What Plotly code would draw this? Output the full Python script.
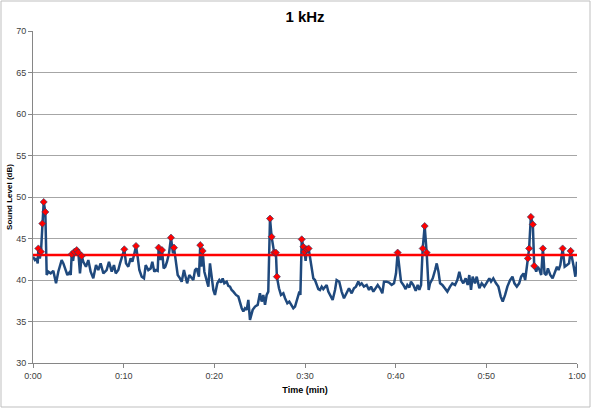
import plotly.graph_objects as go

# Time (seconds) and sound level (dB)
times = [0.0, 0.22, 0.40, 0.52, 0.59, 0.75, 0.88, 1.03, 1.18, 1.36, 1.51, 1.69, 1.95, 2.24, 2.54, 2.79,
         3.16, 3.35, 3.53, 3.79, 4.01, 4.16, 4.27, 4.42, 4.56, 4.82, 5.00, 5.18, 5.37, 5.55, 5.84,
         6.10, 6.36, 6.65, 6.95, 7.20, 7.46, 7.76, 8.12, 8.38, 8.68, 8.93, 9.12, 9.41, 9.60, 9.86,
         10.07, 10.26, 10.51, 10.77, 10.96, 11.18, 11.36, 11.54, 11.73, 11.99, 12.24, 12.43, 12.72,
         12.98, 13.16, 13.38, 13.57, 13.75, 13.86, 14.08, 14.23, 14.41, 14.59, 14.78, 15.00, 15.22,
         15.44, 15.55, 15.74, 15.96, 16.21, 16.40, 16.65, 16.87, 17.00, 17.24, 17.50, 17.68, 17.87,
         18.05, 18.30, 18.45, 18.56, 18.71, 18.90, 19.08, 19.34, 19.52, 19.71, 19.89, 20.07, 20.33,
         20.55, 20.74, 20.92, 21.10, 21.36, 21.54, 21.73, 21.91, 22.10, 22.39, 22.65, 22.83, 23.02,
         23.20, 23.38, 23.57, 23.75, 23.93, 24.04, 24.23, 24.49, 24.78, 25.03, 25.22, 25.40, 25.59,
         25.77, 25.95, 26.14, 26.32, 26.60, 26.79, 26.90, 27.13, 27.35, 27.61, 27.80, 28.05, 28.27,
         28.46, 28.71, 28.90, 29.16, 29.38, 29.49, 29.64, 29.82, 29.95, 30.07, 30.20, 30.40, 30.66,
         30.92, 31.10, 31.47, 31.65, 31.84, 32.02, 32.39, 32.57, 32.83, 33.05, 33.31, 33.49, 33.78,
         34.04, 34.30, 34.60, 34.85, 35.15, 35.40, 35.62, 35.88, 36.06, 36.25, 36.50, 36.80, 37.06,
         37.28, 37.54, 37.80, 38.02, 38.27, 38.53, 38.71, 39.00, 39.27, 39.56, 39.82, 40.04, 40.22,
         40.40, 40.59, 40.85, 41.10, 41.29, 41.51, 41.69, 41.95, 42.21, 42.43, 42.61, 42.80, 42.98,
         43.20, 43.42, 43.64, 43.79, 44.09, 44.35, 44.53, 44.72, 44.90, 45.15, 45.44, 45.70, 46.00,
         46.25, 46.55, 46.80, 47.02, 47.24, 47.46, 47.72, 47.94, 48.12, 48.31, 48.49, 48.75, 48.94,
         49.23, 49.49, 49.78, 50.04, 50.33, 50.52, 50.77, 51.07, 51.33, 51.59, 51.81, 52.07, 52.32,
         52.62, 52.88, 53.10, 53.36, 53.62, 53.84, 54.10, 54.28, 54.47, 54.58, 54.72, 54.91, 55.13,
         55.28, 55.50, 55.68, 55.87, 56.05, 56.24, 56.42, 56.61, 56.79, 57.05, 57.31, 57.53, 57.79,
         57.97, 58.16, 58.42, 58.64, 58.90, 59.12, 59.30, 59.49, 59.64, 59.82, 60.00]

levels = [42.8, 42.4, 42.6, 42.0, 43.8, 42.6, 43.4, 46.8, 49.4, 48.2, 40.6, 41.0, 40.8, 41.1, 39.6, 41.0,
          42.4, 42.0, 41.4, 40.6, 40.9, 40.6, 43.1, 42.3, 43.4, 43.6, 43.3, 40.8, 42.9, 42.2, 41.6,
          42.4, 41.0, 40.2, 41.8, 41.2, 42.0, 40.8, 41.2, 42.2, 41.0, 41.8, 40.8, 41.2, 42.0, 42.8,
          43.7, 42.0, 41.6, 42.6, 42.2, 43.2, 44.1, 42.8, 41.2, 40.4, 40.2, 41.8, 41.2,
          41.4, 42.2, 41.0, 41.2, 41.1, 43.9, 42.4, 43.6, 41.4, 41.6, 42.2, 43.2, 45.1,
          43.2, 43.9, 42.0, 40.6, 40.2, 39.8, 41.2, 40.2, 39.6, 40.6, 40.2, 40.0, 41.2,
          41.4, 40.4, 44.2, 41.6, 43.5, 41.0, 40.2, 39.2, 42.0, 40.6, 38.8, 38.2, 39.6,
          40.0, 39.7, 40.2, 39.6, 39.8, 39.3, 39.2, 38.8, 38.6, 38.2, 38.0, 37.2, 36.6,
          36.2, 36.6, 36.4, 37.6, 35.2, 35.6, 36.4, 36.8, 37.0, 38.4, 37.4, 38.2, 37.0,
          38.2, 38.6, 47.4, 45.2, 43.3, 43.3, 40.4, 39.0, 38.2, 38.4, 37.8, 37.2, 37.4,
          37.0, 36.6, 36.8, 37.8, 38.6, 38.2, 44.9, 44.0, 43.4, 42.3, 43.7, 43.8, 41.9,
          40.2, 40.0, 38.9, 38.8, 39.2, 38.9, 39.4, 38.6, 38.0, 37.6, 38.8, 40.0, 39.8,
          38.6, 37.8, 38.4, 39.0, 38.4, 39.0, 39.2, 39.8, 39.4, 39.6, 39.2, 39.4, 38.8,
          39.2, 38.6, 39.0, 39.4, 39.0, 38.4, 39.8, 39.8, 39.7, 39.4, 39.6, 40.8, 43.3,
          41.6, 39.8, 39.4, 38.9, 39.4, 39.1, 39.8, 39.4, 38.7, 39.4, 38.8, 39.4, 43.8,
          46.5, 43.3, 38.8, 39.6, 40.2, 41.2, 42.0, 41.0, 39.6, 39.4, 39.0, 38.6, 39.2,
          39.6, 39.4, 40.0, 41.0, 40.0, 39.6, 40.2, 39.4, 40.6, 38.8, 40.4, 39.6, 40.4,
          39.0, 39.6, 39.2, 39.6, 40.2, 39.8, 40.2, 39.6, 39.2, 38.0, 37.4, 38.2, 39.2,
          40.0, 40.4, 39.6, 39.2, 39.6, 40.4, 40.8, 40.0, 41.6, 42.6, 43.8, 47.6, 46.7,
          41.7, 41.0, 41.6, 41.2, 40.6, 43.8, 40.8, 40.6, 41.4, 40.6, 40.2, 40.8, 41.6,
          41.2, 41.8, 43.8, 41.6, 41.8, 42.0, 43.5, 42.6, 41.6, 40.4, 42.2]

# Points flagged with red markers (times of flagged samples)
flag_times = [0.59, 0.88, 1.03, 1.18, 1.36, 4.27, 4.56, 4.82, 5.00, 5.37, 10.07, 11.36, 13.86,
              14.23, 15.22, 15.55, 18.45, 18.71, 26.14, 26.32, 26.60, 26.79, 26.90, 29.64, 29.82,
              29.95, 30.20, 30.40, 40.22, 42.98, 43.20, 43.42, 54.58, 54.72, 54.91, 55.13, 55.28,
              56.24, 58.42, 59.30]

threshold = 43.0
x_ticks = [0, 10, 20, 30, 40, 50, 60]
x_tick_labels = ["0:00", "0:10", "0:20", "0:30", "0:40", "0:50", "1:00"]
y_ticks = [30, 35, 40, 45, 50, 55, 60, 65, 70]

lookup = dict(zip(times, levels))
flag_levels = [lookup[t] for t in flag_times]

FONT = "Liberation Sans, Arial, sans-serif"

fig = go.Figure()
fig.add_trace(go.Scatter(x=times, y=levels, mode="lines",
                         line=dict(color="#1F497D", width=2.5), hoverinfo="x+y"))
fig.add_trace(go.Scatter(x=[x_ticks[0], x_ticks[-1]], y=[threshold, threshold], mode="lines",
                         line=dict(color="#FF0000", width=2.5)))
fig.add_trace(go.Scatter(x=flag_times, y=flag_levels, mode="markers",
                         marker=dict(symbol="diamond", size=5.5, color="#FF0000",
                                     line=dict(color="#1F3F6F", width=0.6))))

fig.update_layout(
    width=592, height=413,
    margin=dict(l=33, r=15, t=31, b=50),
    paper_bgcolor="white", plot_bgcolor="white",
    showlegend=False,
    font=dict(family=FONT, size=9, color="#404040"),
    title=dict(text="<b>1 kHz</b>", x=(305) / 592, xanchor="center", y=1 - 17 / 413, yanchor="middle",
               font=dict(family=FONT, size=15, color="black")),
    xaxis=dict(range=[0, 60], tickvals=x_ticks, ticktext=x_tick_labels, showgrid=False,
               showline=True, linecolor="#868686", linewidth=1, ticks="outside", ticklen=4,
               tickcolor="#868686", zeroline=False, automargin=False,
               title=dict(text="<b>Time (min)</b>", font=dict(family=FONT, size=9, color="black"), standoff=6)),
    yaxis=dict(range=[30, 70], tickvals=y_ticks, showgrid=True, gridcolor="#A6A6A6", gridwidth=1,
               showline=True, linecolor="#868686", linewidth=1, ticks="outside", ticklen=4,
               tickcolor="#868686", zeroline=False, automargin=False,
               title=dict(text="<b>Sound Level (dB)</b>", font=dict(family=FONT, size=8, color="black"), standoff=2)),
    shapes=[dict(type="rect", xref="paper", yref="paper",
                 x0=(1 - 33) / 544, x1=(590 - 33) / 544, y0=(363 - 407) / 332, y1=(363 - 1) / 332,
                 line=dict(color="#BFBFBF", width=1), fillcolor="rgba(0,0,0,0)", layer="below")],
)

fig.write_html("out.html", config={"displayModeBar": False},
               post_script="document.body.style.margin='0';document.body.style.overflow='hidden';")
